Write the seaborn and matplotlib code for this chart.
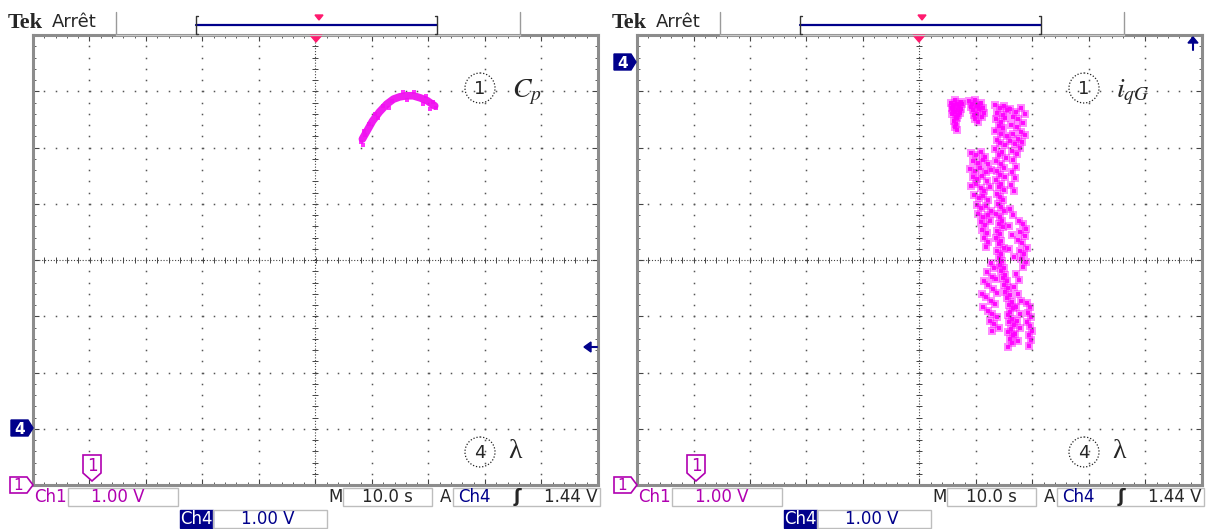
import numpy as np
import pandas as pd
import seaborn as sns
import matplotlib.pyplot as plt
from matplotlib.patches import Polygon, Rectangle, Circle

# ---- data, in screen divisions (x: -5..5, y: -4..4) ----
# left screen: Cp (ch1) against lambda (ch4)
cp_lambda = [0.83, 0.92, 1.01, 1.13, 1.26, 1.38, 1.49, 1.61, 1.73, 1.86, 1.98, 2.11]
cp_value = [2.15, 2.31, 2.47, 2.63, 2.77, 2.86, 2.90, 2.92, 2.92, 2.88, 2.83, 2.74]
cp_spread_x = [0.80, 0.86, 0.95, 1.05, 1.20, 1.35, 1.55, 1.75, 1.95, 2.08, 2.13, 0.88, 1.10, 1.30, 1.62, 1.90, 0.84, 2.02]
cp_spread_y = [2.10, 2.30, 2.42, 2.60, 2.74, 2.82, 2.98, 2.98, 2.91, 2.81, 2.70, 2.22, 2.52, 2.70, 2.85, 2.78, 2.05, 2.69]

# right screen: iqG (ch1) against lambda (ch4), read cluster by cluster
iq_a_x = [0.56, 0.60, 0.63, 0.58, 0.66, 0.70, 0.62, 0.68, 0.74, 0.57, 0.64, 0.71, 0.61, 0.67, 0.59, 0.73, 0.65, 0.69, 0.62, 0.76, 0.60, 0.66]
iq_a_y = [2.80, 2.76, 2.84, 2.70, 2.78, 2.74, 2.64, 2.66, 2.81, 2.60, 2.55, 2.62, 2.48, 2.52, 2.72, 2.69, 2.42, 2.58, 2.36, 2.77, 2.66, 2.32]

iq_b_x = [0.88, 0.93, 0.98, 1.03, 1.08, 1.12, 0.95, 1.01, 1.06, 1.10, 0.91, 0.99, 1.04, 1.14, 1.02, 0.97]
iq_b_y = [2.82, 2.78, 2.84, 2.76, 2.80, 2.70, 2.66, 2.60, 2.68, 2.55, 2.72, 2.50, 2.46, 2.62, 2.74, 2.57]

iq_c_x = [1.33, 1.42, 1.50, 1.38, 1.47, 1.55, 1.35, 1.44, 1.52, 1.40, 1.48, 1.33, 1.45, 1.54, 1.37, 1.43,
          1.51, 1.34, 1.46, 1.40, 1.53, 1.36, 1.44, 1.49, 1.38, 1.42, 1.52, 1.35, 1.45, 1.40, 1.50, 1.37,
          1.43, 1.47, 1.39, 1.44, 1.50, 1.36, 1.42, 1.46, 1.40, 1.48, 1.38, 1.43, 1.35, 1.45, 1.41, 1.49,
          1.37, 1.44, 1.40, 1.46, 1.42, 1.50, 1.44, 1.52, 1.47, 1.55, 1.49, 1.57, 1.52, 1.60, 1.55, 1.63,
          1.58, 1.66, 1.61, 1.56, 1.64, 1.59, 1.67, 1.62, 1.57, 1.65, 1.60, 1.63, 1.56]
iq_c_y = [2.76, 2.70, 2.74, 2.62, 2.58, 2.66, 2.50, 2.46, 2.52, 2.38, 2.34, 2.30, 2.24, 2.20, 2.14, 2.08,
          2.04, 1.98, 1.92, 1.86, 1.82, 1.76, 1.70, 1.64, 1.58, 1.52, 1.48, 1.42, 1.36, 1.30, 1.24, 1.18,
          1.12, 1.06, 1.00, 0.94, 0.88, 0.82, 0.76, 0.70, 0.64, 0.58, 0.52, 0.46, 0.40, 0.34, 0.28, 0.22,
          0.16, 0.10, 0.04, -0.02, -0.08, -0.14, -0.20, -0.26, -0.32, -0.38, -0.44, -0.50, -0.56, -0.62, -0.68, -0.74,
          -0.80, -0.86, -0.92, -0.98, -1.04, -1.10, -1.16, -1.22, -1.28, -1.34, -1.40, -1.48, -1.54]

iq_d_x = [1.60, 1.70, 1.80, 1.86, 1.65, 1.75, 1.83, 1.62, 1.72, 1.79, 1.87, 1.66, 1.74, 1.82, 1.60, 1.69,
          1.77, 1.63, 1.72, 1.66, 1.71, 1.64, 1.69, 1.62, 1.67]
iq_d_y = [2.68, 2.64, 2.70, 2.60, 2.54, 2.50, 2.44, 2.40, 2.36, 2.28, 2.22, 2.24, 2.16, 2.10, 2.12, 2.06,
          2.00, 1.94, 1.88, 1.78, 1.66, 1.56, 1.46, 1.34, 1.22]

iq_e_x = [0.92, 1.00, 1.08, 1.16, 0.95, 1.04, 1.12, 1.22, 0.90, 0.99, 1.07, 1.18, 1.26, 0.94, 1.02, 1.11,
          1.20, 0.91, 1.00, 1.09, 1.15, 1.25, 0.97, 1.05, 1.13, 1.22, 1.01, 1.09, 1.18, 1.27, 1.04, 1.12,
          1.21, 1.08, 1.16, 1.25, 1.10, 1.19, 1.14, 1.22, 1.17]
iq_e_y = [1.90, 1.86, 1.92, 1.84, 1.76, 1.72, 1.78, 1.70, 1.62, 1.58, 1.64, 1.56, 1.60, 1.48, 1.44, 1.50,
          1.40, 1.32, 1.36, 1.28, 1.22, 1.30, 1.16, 1.10, 1.14, 1.06, 0.98, 0.92, 0.96, 0.88, 0.82, 0.76,
          0.80, 0.68, 0.62, 0.70, 0.54, 0.48, 0.40, 0.32, 0.24]

iq_f_x = [1.76, 1.84, 1.89, 1.78, 1.86, 1.74, 1.82, 1.90, 1.77, 1.85, 1.80, 1.88, 1.83, 1.60, 1.66, 1.58, 1.64, 1.59, 1.67]
iq_f_y = [0.70, 0.64, 0.56, 0.50, 0.42, 0.36, 0.30, 0.22, 0.16, 0.10, 0.02, -0.04, -0.12, 0.90, 0.80, 0.60, 0.44, 0.20, 0.06]

iq_g_x = [1.26, 1.32, 1.20, 1.28, 1.14, 1.22, 1.30, 1.10, 1.18, 1.26, 1.34, 1.13, 1.21, 1.29, 1.37, 1.24,
          1.32, 1.40, 1.28, 1.36, 1.38]
iq_g_y = [-0.06, -0.14, -0.22, -0.30, -0.38, -0.44, -0.52, -0.60, -0.66, -0.72, -0.78, -0.84, -0.90, -0.96, -1.02, -1.08,
          -1.14, -1.20, -1.26, -0.34, -0.58]

iq_h_x = [1.70, 1.76, 1.68, 1.74, 1.79, 1.70, 1.77, 1.72, 1.78, 1.69, 1.75,
          1.90, 1.96, 1.92, 1.98, 1.91, 1.95, 1.99, 1.93, 1.97, 1.94]
iq_h_y = [-0.24, -0.36, -0.48, -0.60, -0.72, -0.84, -0.96, -1.08, -1.20, -1.32, -1.44,
          -0.76, -0.84, -0.94, -1.02, -1.10, -1.18, -1.26, -1.34, -1.42, -1.52]

iq_df = pd.DataFrame({
    'lam': iq_a_x + iq_b_x + iq_c_x + iq_d_x + iq_e_x + iq_f_x + iq_g_x + iq_h_x,
    'iqg': iq_a_y + iq_b_y + iq_c_y + iq_d_y + iq_e_y + iq_f_y + iq_g_y + iq_h_y,
})

# ---- style ----
sns.set_style('white')
plt.rcParams['font.family'] = ['DejaVu Sans']
plt.rcParams['mathtext.fontset'] = 'stix'

MAG = '#ff00ff'
CH1 = '#b000b0'
NAVY = '#00008b'
PINK = '#ff1a6e'
W, H = 1210, 529

fig = plt.figure(figsize=(W / 100, H / 100), dpi=100)
fig.patch.set_facecolor('white')


def scope_axes(left_px):
    ax = fig.add_axes([left_px / W, (H - 485) / H, 565 / W, 450 / H])
    ax.set_xlim(-5, 5)
    ax.set_ylim(-4, 4)
    for s in ax.spines.values():
        s.set_color('#8c8c8c')
        s.set_linewidth(2.2)
    ax.set_xticks(np.arange(-5, 5.01, 1))
    ax.set_xticks(np.arange(-5, 5.01, 0.2), minor=True)
    ax.set_yticks(np.arange(-4, 4.01, 1))
    ax.set_yticks(np.arange(-4, 4.01, 0.2), minor=True)
    ax.tick_params(which='both', direction='in', top=True, right=True, bottom=True, left=True,
                   labelbottom=False, labelleft=False, color='#444')
    ax.tick_params(which='major', length=4, width=0.8)
    ax.tick_params(which='minor', length=2.5, width=0.6)
    # dotted graticule
    fine_x = np.arange(-5, 5.01, 0.2)
    fine_y = np.arange(-4, 4.01, 0.2)
    for i in range(-4, 5):
        if i != 0:
            ax.plot(np.full_like(fine_y, i), fine_y, ls='none', marker='s', ms=1.1, color='#555', mew=0)
    for j in range(-3, 4):
        if j != 0:
            ax.plot(fine_x, np.full_like(fine_x, j), ls='none', marker='s', ms=1.1, color='#555', mew=0)
    # centre axes
    ax.axhline(0, color='#444', lw=0.8, ls=(0, (1, 1.6)))
    ax.axvline(0, color='#444', lw=0.8, ls=(0, (1, 1.6)))
    ax.plot(fine_x, np.zeros_like(fine_x), ls='none', marker='|', ms=5, mew=0.7, color='#444')
    ax.plot(np.zeros_like(fine_y), fine_y, ls='none', marker='_', ms=5, mew=0.7, color='#444')
    return ax


ax1 = scope_axes(33)
sns.lineplot(x=cp_lambda, y=cp_value, ax=ax1, color='#f010f0', lw=5.5, sort=False,
             solid_capstyle='round', alpha=0.95)
sns.scatterplot(x=cp_spread_x, y=cp_spread_y, ax=ax1, color=MAG, marker='s', s=6, linewidth=0, alpha=0.8)
ax1.set_xlabel('')
ax1.set_ylabel('')

ax2 = scope_axes(637)
sns.scatterplot(data=iq_df, x='lam', y='iqg', ax=ax2, color=MAG, marker='s', s=26, linewidth=0, alpha=0.45)
sns.scatterplot(data=iq_df, x='lam', y='iqg', ax=ax2, color=MAG, marker='s', s=5, linewidth=0, alpha=0.9)
ax2.set_xlabel('')
ax2.set_ylabel('')

# ---- screen decorations, in pixel coordinates ----
ov = fig.add_axes([0, 0, 1, 1], zorder=5)
ov.set_xlim(0, W)
ov.set_ylim(H, 0)
ov.axis('off')


def decorate(dx, cx, label1):
    # header
    ov.text(8 + dx, 28, 'Tek', fontsize=16, fontweight='bold', family='Liberation Serif', va='baseline')
    ov.text(52 + dx, 27, 'Arrêt', fontsize=13, va='baseline')
    for xl in (116 + dx, 520 + dx):
        ov.plot([xl, xl], [12, 35], color='#9a9a9a', lw=1)
    ov.plot([116 + dx, 520 + dx], [35, 35], color='#c8c8c8', lw=1)
    ov.plot([196 + dx, 437 + dx], [25, 25], color=NAVY, lw=1.6)
    ov.plot([198 + dx, 196 + dx, 196 + dx, 198 + dx], [16, 16, 34, 34], color='#333', lw=1)
    ov.plot([435 + dx, 437 + dx, 437 + dx, 435 + dx], [16, 16, 34, 34], color='#333', lw=1)
    ov.add_patch(Polygon([[cx + 3 - 4, 15], [cx + 3 + 4, 15], [cx + 3, 20]], color=PINK))
    ov.add_patch(Polygon([[cx - 6, 35], [cx + 6, 35], [cx, 42]], color=PINK))

    # channel labels inside the screen
    for yy, num in ((88, '1'), (452, '4')):
        ov.add_patch(Circle((480 + dx, yy), 15, fill=False, ls=(0, (1, 1.5)), lw=0.9, color='#222'))
        ov.text(480 + dx, yy + 1, num, fontsize=13, ha='center', va='center')
    ov.text(508 + dx, 452, 'λ', fontsize=20, family='Liberation Serif', ha='left', va='center')
    ov.text(512 + dx, 92, label1, fontsize=20, ha='left', va='center')

    # ch1 ground marker and trigger marker
    ov.add_patch(Polygon([[10 + dx, 477], [27 + dx, 477], [33 + dx, 485], [27 + dx, 493], [10 + dx, 493]],
                         fill=True, fc='white', ec=CH1, lw=1.2))
    ov.text(18 + dx, 486, '1', color=CH1, fontsize=11, ha='center', va='center')
    ov.add_patch(Polygon([[83 + dx, 455], [101 + dx, 455], [101 + dx, 473], [92 + dx, 481], [83 + dx, 473]],
                         fill=True, fc='white', ec=CH1, lw=1.2))
    ov.text(92 + dx, 466, '1', color=CH1, fontsize=12, ha='center', va='center')

    # bottom readouts
    box = dict(fill=False, ec='#bdbdbd', lw=1)
    fs = 12
    ov.text(34 + dx, 497, 'Ch1', color=CH1, fontsize=fs, va='center')
    ov.add_patch(Rectangle((68 + dx, 488), 110, 18, **box))
    ov.text(118 + dx, 497, '1.00 V', color=CH1, fontsize=fs, ha='center', va='center')
    ov.text(328 + dx, 497, 'M', fontsize=fs, va='center')
    ov.add_patch(Rectangle((343 + dx, 488), 89, 18, **box))
    ov.text(387 + dx, 497, '10.0 s', fontsize=fs, ha='center', va='center')
    ov.text(440 + dx, 497, 'A', fontsize=fs, va='center')
    ov.add_patch(Rectangle((453 + dx, 488), 147, 18, **box))
    ov.text(458 + dx, 497, 'Ch4', color=NAVY, fontsize=fs, va='center')
    ov.text(514 + dx, 497, 'ʃ', fontsize=13, fontweight='bold', va='center')
    ov.text(598 + dx, 497, '1.44 V', fontsize=fs, ha='right', va='center')
    ov.add_patch(Rectangle((180 + dx, 510), 33, 18, color=NAVY))
    ov.text(196 + dx, 519, 'Ch4', color='white', fontsize=fs, ha='center', va='center')
    ov.add_patch(Rectangle((213 + dx, 510), 114, 18, **box))
    ov.text(268 + dx, 519, '1.00 V', color=NAVY, fontsize=fs, ha='center', va='center')


def ch4_marker(x0, y0):
    ov.add_patch(Polygon([[x0, y0 - 8], [x0 + 17, y0 - 8], [x0 + 22, y0], [x0 + 17, y0 + 8], [x0, y0 + 8]],
                         color=NAVY))
    ov.text(x0 + 9, y0 + 1, '4', color='white', fontsize=11, fontweight='bold', ha='center', va='center')


decorate(0, 316, r'$C_p$')
decorate(604, 919, r'$i_{qG}$')
ch4_marker(11, 428)
ch4_marker(614, 62)

# ch4 level arrows
ov.add_patch(Polygon([[584, 347], [591, 342], [591, 352]], color=NAVY))
ov.plot([589, 597], [347, 347], color=NAVY, lw=1.5)
ov.add_patch(Polygon([[1193, 37], [1188, 43], [1198, 43]], color=NAVY))
ov.plot([1193, 1193], [41, 50], color=NAVY, lw=1.5)

plt.savefig('out.png', dpi=100)
